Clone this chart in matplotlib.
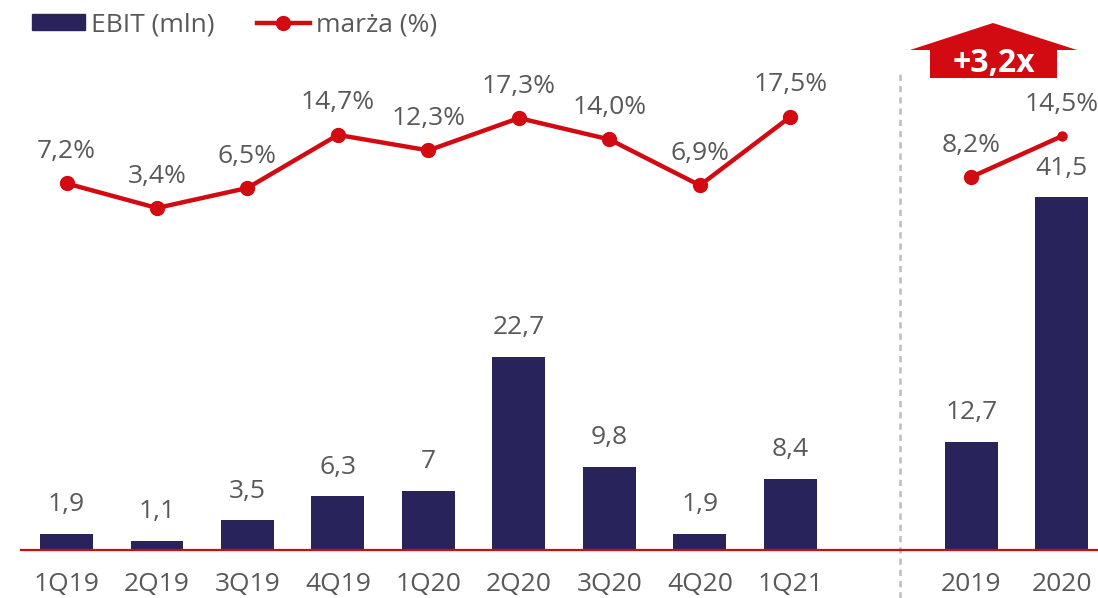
import matplotlib
matplotlib.use("Agg")
import matplotlib.pyplot as plt
from matplotlib.patches import Polygon
from matplotlib.lines import Line2D
import matplotlib.transforms as mtransforms

plt.rcParams['font.family'] = ['Open Sans', 'DejaVu Sans']

quarters = ['1Q19', '2Q19', '3Q19', '4Q19', '1Q20', '2Q20', '3Q20', '4Q20', '1Q21']
ebit_q = [1.9, 1.1, 3.5, 6.3, 7, 22.7, 9.8, 1.9, 8.4]
margin_q = [7.2, 3.4, 6.5, 14.7, 12.3, 17.3, 14.0, 6.9, 17.5]
years = ['2019', '2020']
ebit_y = [12.7, 41.5]
margin_y = [8.2, 14.5]
multiplier_label = '+3,2x'

NAVY = '#29235C'
RED = '#D20A11'
GRAY = '#595959'
FS = 19

W, H = 1098, 598
fig = plt.figure(figsize=(W / 100, H / 100), dpi=100)
ax = fig.add_axes([21 / W, 48 / H, (W - 21) / W, 550 / H])
ax2 = ax.twinx()

xq = list(range(len(quarters)))
xy = [len(quarters) + 1 + i for i in range(len(years))]

bw = 0.585
ax.bar(xq, ebit_q, width=bw, color=NAVY, zorder=2)
ax.bar(xy, ebit_y, width=bw, color=NAVY, zorder=2)

def fmt_num(v):
    return f"{v:g}".replace('.', ',')

def fmt_pct(v):
    return f"{v:.1f}%".replace('.', ',')

for x, v in zip(xq + xy, ebit_q + ebit_y):
    ax.annotate(fmt_num(v), (x, v), xytext=(0, 21), textcoords='offset points',
                ha='center', va='center', fontsize=FS, color=GRAY)

ax.axhline(0, color=RED, lw=1.6, zorder=3, clip_on=False)
ax.set_xlim(-0.503, 11.4)
ax.set_ylim(0, 550 / 8.5)

ax2.plot(xq, margin_q, color=RED, lw=3.2, marker='o', ms=10, zorder=4)
ax2.plot(xy, margin_y, color=RED, lw=3.2, zorder=4)
ax2.plot(xy[0], margin_y[0], 'o', color=RED, ms=10, zorder=5)
ax2.plot(xy[1], margin_y[1], 'o', color=RED, ms=6.5, zorder=5)
for x, v in zip(xq + xy, margin_q + margin_y):
    ax2.annotate(fmt_pct(v), (x, v), xytext=(0, 23), textcoords='offset points',
                 ha='center', va='center', fontsize=FS, color=GRAY)
ax2.set_ylim(-(550 - 230) / 6.47, 230 / 6.47)

for a in (ax, ax2):
    for s in a.spines.values():
        s.set_visible(False)
    a.set_yticks([])
ax.set_xticks(xq + xy)
ax.set_xticklabels(quarters + years, fontsize=FS, color=GRAY)
ax.tick_params(axis='x', length=0, pad=16)

# separator
sep_x = len(quarters) + 0.21
trans = mtransforms.blended_transform_factory(ax.transData, ax.transAxes)
ax.plot([sep_x, sep_x], [-48 / 550, (550 - 73) / 550], transform=trans, color='#BDBDBD',
        lw=1.8, ls=(0, (2.5, 2)), clip_on=False, zorder=1)

# arrow
def px(x, y):
    return (x / W, 1 - y / H)
arrow_pts = [px(930, 78), px(930, 50), px(910, 50), px(993, 23), px(1077, 50),
             px(1057, 50), px(1057, 78)]
fig.patches.append(Polygon(arrow_pts, closed=True, transform=fig.transFigure,
                           facecolor=RED, edgecolor='none'))
fig.text(994 / W, 1 - 63 / H, multiplier_label, ha='center', va='center',
         fontsize=23, fontweight='bold', color='white')

# legend
handles = [plt.Rectangle((0, 0), 1, 1, color=NAVY),
           Line2D([], [], color=RED, lw=3.2, marker='o', ms=10)]
leg = fig.legend(handles, ['EBIT (mln)', 'marża (%)'], loc='center left',
                 bbox_to_anchor=(32 / W, 1 - 25 / H), ncol=2, frameon=False,
                 fontsize=FS, handlelength=2.0, handleheight=0.53, handletextpad=0.25,
                 columnspacing=1.6, labelcolor=GRAY, borderaxespad=0, borderpad=0)

fig.savefig('out.png', dpi=100)
